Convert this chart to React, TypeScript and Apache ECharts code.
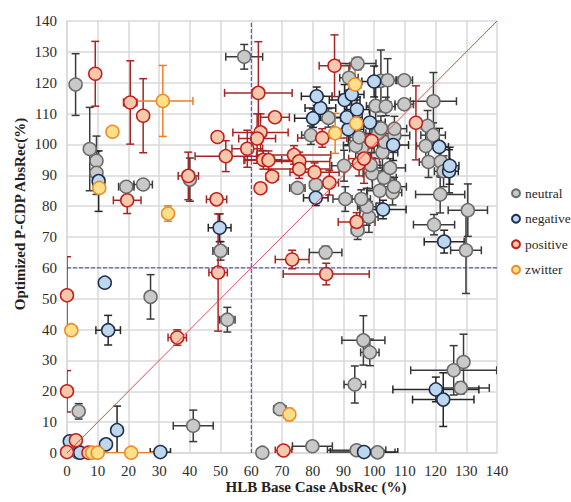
import React, { useEffect, useRef } from "react";
import * as echarts from "echarts";

// Each point: [x, y, xError, yError]  (HLB base case, optimized P-CDP)
const neutralPoints: number[][] = [
  [2.8, 119.4, 0.5, 10], [7.4, 98.5, 0.5, 13.5], [9.6, 94.7, 0.5, 8], [9.6, 90.8, 0.5, 7],
  [19.3, 86.3, 2.5, 0], [24.8, 87.0, 3, 0], [40.0, 88.6, 0.5, 7], [57.7, 128.4, 6, 4],
  [27.2, 50.6, 0.5, 7.2], [50.0, 65.5, 2.5, 3], [52.2, 43.2, 2.5, 4], [3.8, 13.5, 0.5, 2.5],
  [41.1, 8.8, 6.5, 5.1], [3.6, 0.2, 0.5, 0], [63.6, 0.1, 0.5, 0], [69.3, 14.2, 2, 1],
  [79.9, 2.2, 6.5, 0], [94.3, 0.9, 9.5, 0], [101.1, 0.2, 5.7, 0], [96.5, 36.5, 7, 8],
  [98.6, 32.6, 3, 4.3], [93.7, 22.2, 3.5, 6], [125.9, 26.8, 14, 8], [129.1, 29.5, 1, 9],
  [128.2, 21.1, 9.3, 2], [129.9, 65.7, 5, 14], [130.5, 78.7, 6.4, 8.5], [119.5, 74.0, 6.7, 3.3],
  [121.5, 83.8, 8, 6], [84.2, 65.0, 5.3, 2], [94.6, 72.2, 2, 3], [98.3, 76.5, 3, 5],
  [97.6, 79.8, 3, 6], [90.6, 82.3, 4, 4], [95.8, 82.3, 3, 3], [75.0, 85.9, 2.5, 0],
  [81.0, 86.9, 2, 0], [101.8, 85.0, 4, 4], [106.0, 84.4, 3, 4], [106.5, 86.3, 4, 3],
  [99.4, 90.6, 3, 5], [103.2, 89.2, 4, 4], [105.2, 92.4, 5, 3], [90.2, 93.1, 4, 5],
  [98.9, 93.3, 3, 4], [117.7, 94.3, 3, 5], [121.7, 94.4, 3, 5], [122.6, 91.3, 3, 5],
  [102.7, 97.4, 5, 6], [96.0, 98.7, 4, 5], [94.0, 99.6, 4, 5], [103.5, 100.8, 4, 5],
  [116.8, 99.5, 3, 6], [95.1, 102.3, 3, 5], [79.4, 103.0, 3, 3], [101.3, 103.6, 4, 4],
  [106.6, 102.9, 5, 3], [102.2, 105.2, 3, 4], [106.6, 105.1, 4, 4], [117.4, 106.0, 2, 5],
  [119.2, 103.0, 4, 4], [85.1, 108.6, 4, 3], [100.5, 112.5, 3, 6], [103.8, 112.3, 3, 3],
  [109.8, 113.0, 3, 0], [119.3, 114.0, 7.5, 9.3], [102.2, 120.6, 3, 10], [104.4, 120.8, 3, 7],
  [109.8, 120.8, 2.7, 0], [91.8, 121.6, 3, 4], [94.6, 126.2, 6, 2],
];

const negativePoints: number[][] = [
  [10.3, 88.1, 1.5, 9.8], [12.3, 55.2, 0.5, 1], [13.4, 39.8, 4, 4.8], [16.3, 7.4, 0.5, 7.8],
  [12.7, 2.8, 0.5, 0], [0.9, 3.8, 1, 1], [4.3, 0.1, 0.5, 0], [30.4, 0.3, 3.3, 0],
  [49.7, 73.0, 3.7, 4.5], [81.0, 82.7, 4, 2.5], [102.9, 78.9, 7.5, 3], [122.8, 68.5, 6.5, 3.7],
  [120.1, 20.6, 14, 4], [122.5, 17.3, 10, 8.7], [96.7, 0.3, 11, 0], [124.4, 91.3, 3, 7],
  [124.6, 93.1, 3, 6], [121.2, 99.2, 3, 6], [106.2, 99.8, 5, 5], [91.6, 104.9, 5, 5],
  [98.6, 107.1, 5, 5], [80.1, 108.5, 6, 3], [91.1, 108.8, 5, 4], [82.5, 111.8, 5, 4],
  [94.4, 111.3, 4, 4], [90.4, 114.4, 5, 5], [92.7, 116.2, 4, 6], [81.3, 115.6, 5, 3],
  [100.0, 120.4, 4, 5],
];

const positivePoints: number[][] = [
  [9.2, 122.9, 1, 10.5], [20.6, 113.6, 2.2, 13.5], [24.8, 109.3, 0.5, 12], [19.6, 81.9, 4.5, 4.3],
  [39.5, 89.8, 3.3, 7.7], [48.7, 82.2, 3.3, 0], [49.0, 102.4, 0.5, 0], [51.7, 96.2, 10, 5],
  [58.7, 98.6, 5, 6], [62.3, 116.7, 11, 16.6], [63.0, 103.9, 9, 6], [61.9, 101.9, 6, 8],
  [63.0, 85.8, 0.5, 1.5], [63.9, 95.0, 6, 3], [65.6, 94.9, 8, 3], [66.8, 89.6, 2, 0],
  [67.7, 108.8, 4.7, 0], [73.9, 96.6, 12, 3], [75.6, 94.5, 10, 3], [75.6, 92.0, 10, 3],
  [80.6, 91.0, 8, 3], [85.4, 87.6, 3, 4], [83.1, 102.1, 8, 3], [87.1, 125.5, 5, 10],
  [94.3, 74.9, 6, 3], [95.1, 93.8, 5, 4], [96.7, 95.4, 5, 8], [99.2, 101.1, 3, 6],
  [113.6, 107.0, 1, 12], [73.3, 62.7, 5.5, 3], [84.4, 58.0, 14, 3.5], [49.2, 58.5, 3, 19],
  [35.9, 37.4, 3, 2.5], [0, 51.1, 0, 12.5], [0, 20.0, 0, 6.7], [2.9, 4.1, 1, 1.5],
  [0, 0.3, 0.5, 0], [7.0, 0.1, 0.5, 0], [70.5, 0.8, 2.7, 0],
];

const zwitterPoints: number[][] = [
  [31.2, 114.1, 9.8, 11.5], [14.8, 104.1, 0, 0], [10.5, 85.9, 0.5, 0], [32.9, 77.6, 0.5, 2.5],
  [1.4, 39.8, 0, 0], [8.2, 0.1, 0, 0], [10.0, 0.1, 0, 0], [20.9, 0.1, 9, 0],
  [72.4, 12.5, 0.5, 2], [93.8, 119.4, 2, 8.5], [94.2, 106.8, 2, 6], [87.3, 103.6, 1, 6.5],
];

const axisTicks = [0, 20, 40, 60, 80, 100, 120, 140];
const identityLine = [[0, 0], [140, 140]];
const verticalThreshold = [[60, 0], [60, 140]];
const horizontalThreshold = [[0, 60], [140, 60]];

const SERIF = "Liberation Serif";

const groups = [
  { name: "neutral", data: neutralPoints, fill: "#c9c9c9", border: "#6b6b6b", bar: "#3a3a3a" },
  { name: "negative", data: negativePoints, fill: "#bdd7ee", border: "#1f2f4f", bar: "#262626" },
  { name: "positive", data: positivePoints, fill: "#f8c8ad", border: "#c0201c", bar: "#a82424" },
  { name: "zwitter", data: zwitterPoints, fill: "#ffe08a", border: "#ee8a2a", bar: "#ee7d26" },
];

function errRenderer(color: string) {
  return (params: any, api: any) => {
    const x = api.value(0);
    const y = api.value(1);
    const xe = api.value(2);
    const ye = api.value(3);
    const cap = 4;
    const style = { stroke: color, lineWidth: 1.5, fill: "none" };
    const children: any[] = [];
    if (xe > 0) {
      const a = api.coord([x - xe, y]);
      const b = api.coord([x + xe, y]);
      children.push({ type: "line", shape: { x1: a[0], y1: a[1], x2: b[0], y2: b[1] }, style });
      children.push({ type: "line", shape: { x1: a[0], y1: a[1] - cap, x2: a[0], y2: a[1] + cap }, style });
      children.push({ type: "line", shape: { x1: b[0], y1: b[1] - cap, x2: b[0], y2: b[1] + cap }, style });
    }
    if (ye > 0) {
      const a = api.coord([x, y - ye]);
      const b = api.coord([x, y + ye]);
      children.push({ type: "line", shape: { x1: a[0], y1: a[1], x2: b[0], y2: b[1] }, style });
      children.push({ type: "line", shape: { x1: a[0] - cap, y1: a[1], x2: a[0] + cap, y2: a[1] }, style });
      children.push({ type: "line", shape: { x1: b[0] - cap, y1: b[1], x2: b[0] + cap, y2: b[1] }, style });
    }
    return { type: "group", children };
  };
}

export default function App() {
  const ref = useRef<HTMLDivElement>(null);
  useEffect(() => {
    if (!ref.current) return;
    const chart = echarts.init(ref.current, undefined, { renderer: "svg" });
    const series: any[] = [];
    groups.forEach((g) => {
      series.push({
        name: g.name + "-err",
        type: "custom",
        renderItem: errRenderer(g.bar),
        data: g.data,
        encode: { x: 0, y: 1 },
        clip: true,
        silent: true,
      });
      series.push({
        name: g.name,
        type: "scatter",
        data: g.data.map((p) => [p[0], p[1]]),
        symbol: "circle",
        symbolSize: 13,
        itemStyle: { color: g.fill, borderColor: g.border, borderWidth: 1.5, opacity: 1 },
        clip: false,
      });
    });
    const dashStyle = { type: [4, 2], color: "#3b3bd0", width: 1 };
    series.push({
      name: "threshold-x",
      type: "line",
      data: verticalThreshold,
      showSymbol: false,
      symbol: "none",
      lineStyle: dashStyle,
      silent: true,
    });
    series.push({
      name: "threshold-y",
      type: "line",
      data: horizontalThreshold,
      showSymbol: false,
      symbol: "none",
      lineStyle: dashStyle,
      silent: true,
    });
    series.push({
      name: "identity",
      type: "line",
      data: identityLine,
      showSymbol: false,
      symbol: "none",
      lineStyle: { color: "#e04a4a", width: 1 },
      silent: true,
    });

    const labelStyle = { color: "#2b2b2b", fontFamily: SERIF, fontSize: 15, margin: 10 };
    const axisCommon = {
      type: "value",
      min: axisTicks[0],
      max: axisTicks[axisTicks.length - 1],
      interval: 10,
      axisLine: { show: true, lineStyle: { color: "#d9d9d9", width: 1.5 } },
      axisTick: { show: false },
      splitLine: { show: true, lineStyle: { color: "#d9d9d9", width: 1.5 } },
      axisLabel: labelStyle,
    };

    chart.setOption({
      animation: false,
      backgroundColor: "#ffffff",
      textStyle: { fontFamily: SERIF },
      grid: { left: 67, right: 74, top: 21, bottom: 49, containLabel: false },
      xAxis: { ...axisCommon },
      yAxis: { ...axisCommon },
      legend: {
        orient: "vertical",
        left: 511,
        top: 186,
        padding: 0,
        data: groups.map((g) => g.name),
        icon: "circle",
        itemWidth: 8,
        itemHeight: 8,
        itemGap: 11,
        textStyle: { fontFamily: SERIF, fontSize: 13.5, color: "#2b2b2b", lineHeight: 14.5 },
        selectedMode: false,
      },
      graphic: [
        {
          type: "text",
          x: 20,
          y: 214,
          rotation: Math.PI / 2,
          style: {
            text: "Optimized P-CDP AbsRec(%)",
            fontFamily: SERIF,
            fontSize: 15,
            fontWeight: "bold",
            fill: "#222",
            align: "center",
            verticalAlign: "middle",
          },
        },
        {
          type: "text",
          x: 316,
          y: 487,
          style: {
            text: "HLB Base Case AbsRec (%)",
            fontFamily: SERIF,
            fontSize: 15,
            fontWeight: "bold",
            fill: "#222",
            align: "center",
            verticalAlign: "middle",
          },
        },
      ],
      series,
    });
    return () => chart.dispose();
  }, []);
  return (
    <div
      ref={ref}
      style={{ position: "absolute", left: 0, top: 0, width: 571, height: 502, background: "#fff" }}
    />
  );
}
